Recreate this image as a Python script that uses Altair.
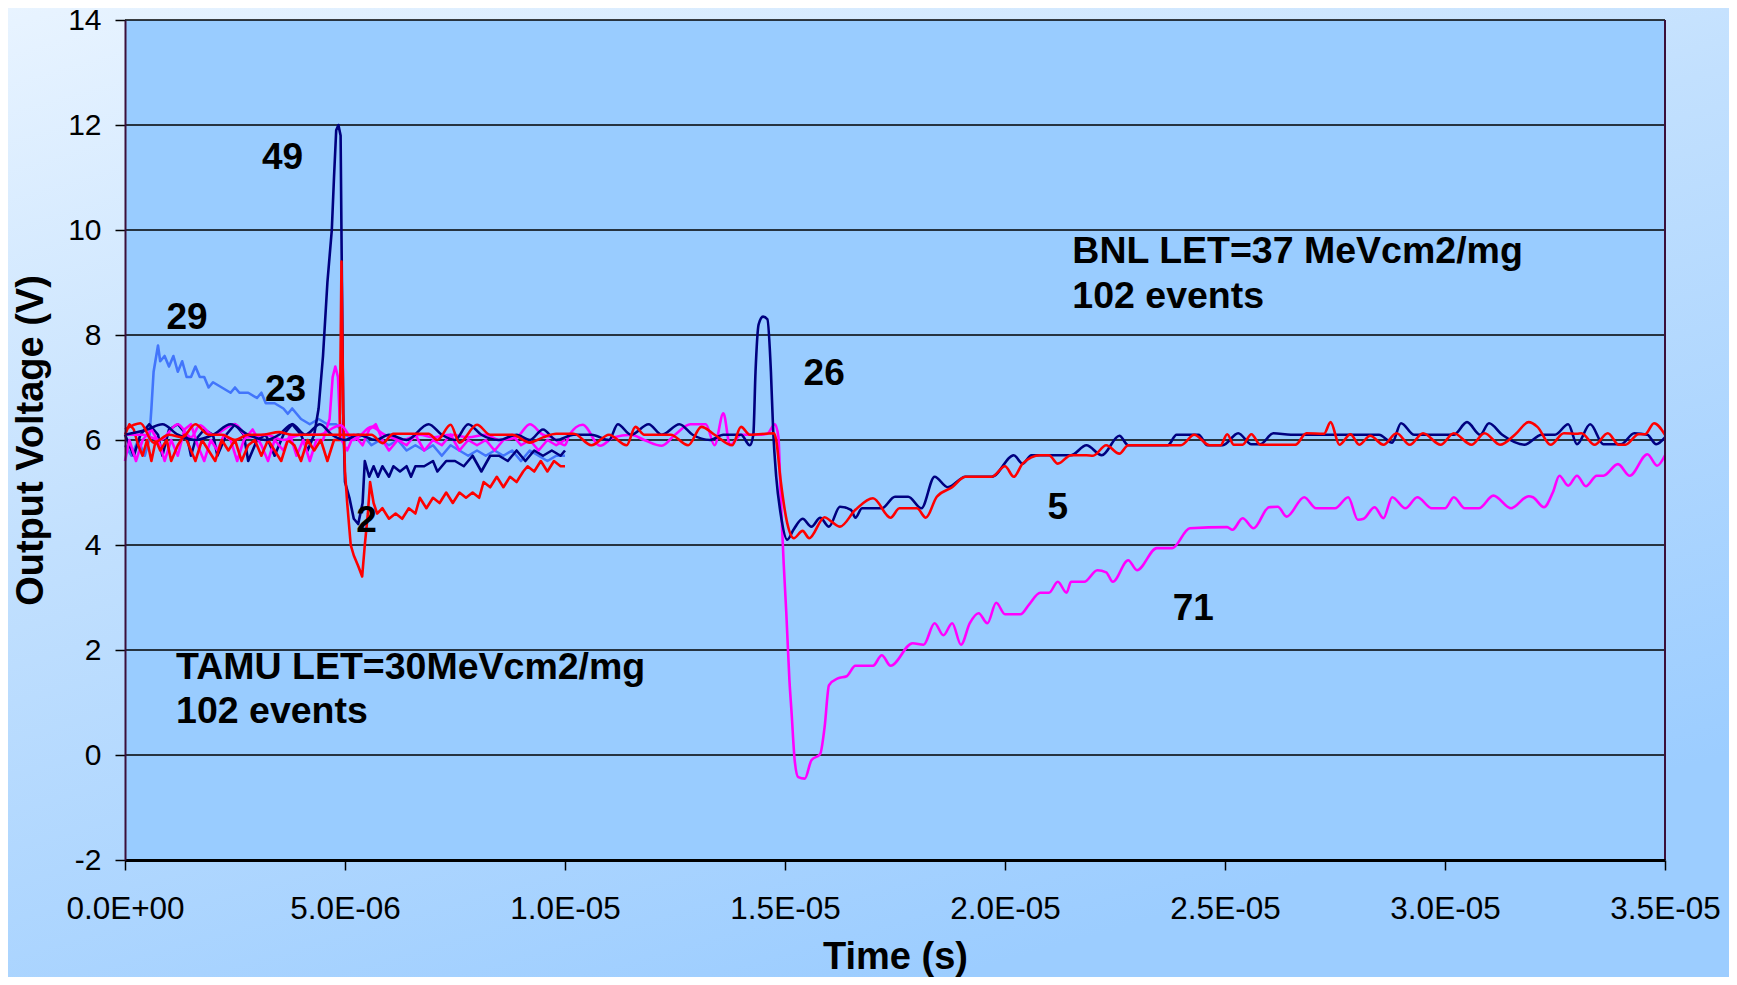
import altair as alt
import pandas as pd

W, H = 1540, 840

# ---- data (time in microseconds, voltage in V) ----
TAMU_BLUE = [(0.0,5.9),(0.15,5.7),(0.3,6.0),(0.45,5.7),(0.55,6.0),(0.6,6.6),(0.65,7.3),(0.75,7.8),(0.8,7.5),(0.9,7.6),
             (1.0,7.4),(1.1,7.6),(1.2,7.3),(1.3,7.5),(1.4,7.2),(1.5,7.2),(1.6,7.4),(1.7,7.2),(1.8,7.2),(1.9,7.0),
             (2.0,7.1),(2.2,7.0),(2.4,6.9),(2.5,7.0),(2.6,6.9),(2.8,6.9),(3.0,6.8),(3.1,6.9),(3.2,6.7),(3.4,6.7),
             (3.6,6.6),(3.7,6.5),(3.8,6.6),(4.0,6.4),(4.2,6.3),(4.4,6.4),(4.6,6.3),(4.8,6.3),(5.0,6.1),(5.2,6.0),
             (5.4,6.1),(5.6,5.9),(5.8,6.0),(6.0,5.9),(6.2,6.0),(6.4,5.8),(6.6,5.9),(6.8,5.8),(7.0,5.9),(7.2,5.7),
             (7.4,5.9),(7.6,5.8),(7.8,5.7),(8.0,5.8),(8.2,5.7),(8.4,5.8),(8.6,5.7),(8.8,5.8),(9.0,5.6),(9.2,5.8),
             (9.4,5.7),(9.6,5.6),(9.8,5.7),(10.0,5.7)]

TAMU_NAVY = [(0.0,6.1),(0.2,5.7),(0.35,6.1),(0.55,6.3),(0.75,6.1),(0.85,5.7),(1.0,6.2),(1.2,6.3),(1.4,6.1),(1.5,5.7),
             (1.6,6.0),(1.8,6.2),(2.0,6.1),(2.1,5.7),(2.3,6.1),(2.5,6.3),(2.7,6.1),(2.8,5.6),(3.0,6.0),(3.2,6.1),
             (3.4,5.7),(3.6,6.1),(3.8,6.3),(4.0,6.1),(4.15,5.8),(4.3,6.1),(4.4,6.6),(4.5,7.6),(4.6,9.0),(4.7,10.0),
             (4.75,11.0),(4.8,11.9),(4.85,12.0),(4.9,11.8),(4.93,9.0),(4.96,6.5),(5.0,5.2),(5.1,4.9),(5.2,4.5),(5.3,4.4),
             (5.4,4.8),(5.45,5.6),(5.55,5.3),(5.65,5.5),(5.75,5.3),(5.85,5.5),(6.0,5.3),(6.1,5.5),(6.25,5.4),(6.4,5.5),
             (6.5,5.3),(6.6,5.5),(6.8,5.5),(7.0,5.6),(7.1,5.4),(7.3,5.6),(7.5,5.6),(7.7,5.5),(7.9,5.7),(8.1,5.4),
             (8.3,5.7),(8.5,5.7),(8.7,5.6),(8.9,5.8),(9.1,5.6),(9.3,5.8),(9.5,5.7),(9.7,5.8),(9.9,5.7),(10.0,5.8)]

TAMU_MAGENTA = [(0.0,5.6),(0.1,6.0),(0.25,5.6),(0.4,6.0),(0.6,6.2),(0.8,5.9),(0.9,5.6),(1.05,6.0),(1.2,5.7),(1.35,6.2),
                (1.5,6.3),(1.65,5.9),(1.8,5.6),(1.95,6.0),(2.1,5.8),(2.25,6.1),(2.4,6.0),(2.55,5.6),(2.7,6.0),(2.9,6.2),
                (3.1,5.9),(3.25,5.6),(3.4,6.0),(3.6,5.8),(3.75,6.1),(3.9,5.7),(4.05,6.0),(4.2,5.6),(4.35,6.0),(4.5,6.0),
                (4.65,6.4),(4.72,7.2),(4.78,7.4),(4.84,7.2),(4.88,6.4),(4.92,6.0),(5.05,5.8),(5.2,6.1),(5.4,5.9),(5.55,6.2),
                (5.7,6.3),(5.85,6.0),(6.0,5.8),(6.2,6.0),(6.4,5.9),(6.6,6.1),(6.8,5.8),(7.0,6.0),(7.2,5.9),(7.4,6.1),
                (7.6,5.8),(7.8,6.0),(8.0,5.9),(8.2,6.0),(8.4,5.8),(8.6,6.0),(8.8,6.1),(9.0,5.9),(9.2,6.0),(9.4,5.8),
                (9.6,6.0),(9.8,5.9),(10.0,6.0)]

TAMU_RED = [(0.0,6.1),(0.1,6.3),(0.2,6.2),(0.3,5.9),(0.4,5.7),(0.5,6.0),(0.6,5.6),(0.7,6.0),(0.8,5.8),(0.95,6.0),
            (1.05,5.6),(1.2,5.9),(1.35,6.1),(1.5,5.8),(1.6,5.6),(1.75,6.0),(1.9,5.8),(2.05,5.6),(2.2,6.0),(2.35,5.8),
            (2.5,6.0),(2.65,5.6),(2.8,5.9),(2.95,6.0),(3.1,5.7),(3.25,6.0),(3.4,5.8),(3.55,5.6),(3.7,6.0),(3.85,5.9),
            (4.0,5.6),(4.15,6.0),(4.3,5.8),(4.45,6.0),(4.6,5.6),(4.75,6.0),(4.88,6.0),(4.92,9.4),(4.96,6.5),(5.0,5.4),
            (5.05,4.8),(5.13,4.0),(5.2,3.8),(5.3,3.6),(5.39,3.4),(5.45,4.0),(5.52,4.6),(5.57,5.2),(5.65,4.8),(5.73,4.6),
            (5.85,4.7),(6.0,4.5),(6.15,4.6),(6.3,4.5),(6.45,4.7),(6.6,4.6),(6.7,4.9),(6.85,4.7),(7.0,4.9),(7.15,4.8),
            (7.3,5.0),(7.45,4.8),(7.6,5.0),(7.75,4.9),(7.9,5.0),(8.05,4.9),(8.15,5.2),(8.3,5.1),(8.45,5.3),(8.6,5.1),
            (8.75,5.3),(8.9,5.2),(9.05,5.4),(9.15,5.5),(9.3,5.4),(9.45,5.6),(9.6,5.4),(9.75,5.6),(9.9,5.5),(10.0,5.5)]

BNL_MAGENTA = [(0.0,6.1),(0.4,6.1),(0.8,6.0),(1.2,6.3),(1.5,6.05),(1.7,6.28),(2.0,6.1),(2.5,6.3),(2.8,6.05),(3.2,6.1),
               (3.6,6.0),(4.0,6.1),(4.4,6.1),(4.9,6.28),(5.2,6.0),(5.6,6.25),(5.9,6.1),(6.3,6.0),(6.7,6.1),(7.0,6.05),
               (7.4,6.1),(7.8,6.05),(8.2,6.1),(8.5,6.0),(8.9,6.05),(9.2,6.3),(9.5,6.1),(9.7,6.05),(10.0,5.9),(10.1,6.1),
               (10.4,6.29),(10.8,5.89),(11.1,6.05),(11.5,6.1),(11.8,6.0),(12.2,5.89),(12.5,6.1),(12.85,6.3),(13.2,6.3),(13.4,5.9),
               (13.6,6.51),(13.75,5.9),(14.0,6.1),(14.4,6.1),(14.6,6.12),(14.77,6.3),(14.85,6.06),(14.9,4.98),(14.97,3.65),(15.03,2.7),
               (15.1,1.43),(15.15,0.8),(15.22,-0.1),(15.3,-0.42),(15.45,-0.45),(15.6,-0.1),(15.8,0.02),(15.9,0.53),(16.0,1.33),(16.2,1.46),
               (16.4,1.5),(16.6,1.7),(17.0,1.7),(17.2,1.9),(17.4,1.7),(17.9,2.13),(18.15,2.1),(18.4,2.51),(18.6,2.28),(18.8,2.51),
               (19.0,2.1),(19.2,2.51),(19.4,2.7),(19.6,2.51),(19.8,2.9),(20.0,2.68),(20.35,2.68),(20.55,2.87),(20.8,3.09),(21.0,3.09),
               (21.2,3.3),(21.4,3.09),(21.5,3.3),(21.8,3.3),(22.1,3.52),(22.3,3.48),(22.45,3.3),(22.8,3.71),(23.0,3.52),(23.45,3.94),
               (23.8,3.94),(24.2,4.32),(25.05,4.34),(25.17,4.29),(25.4,4.51),(25.65,4.32),(26.0,4.72),(26.2,4.73),(26.4,4.54),(26.8,4.91),
               (27.07,4.7),(27.5,4.7),(27.8,4.91),(28.02,4.48),(28.15,4.5),(28.4,4.72),(28.6,4.51),(28.8,4.91),(29.1,4.7),(29.37,4.91),
               (29.7,4.7),(30.0,4.7),(30.2,4.91),(30.45,4.7),(30.77,4.7),(31.1,4.94),(31.5,4.7),(31.9,4.93),(32.0,4.91),(32.25,4.72),
               (32.45,5.0),(32.6,5.32),(32.8,5.13),(33.0,5.32),(33.2,5.12),(33.45,5.32),(33.6,5.32),(33.93,5.54),(34.2,5.32),(34.6,5.73),
               (34.82,5.51),(35.0,5.71)]

BNL_NAVY = [(0.0,6.1),(0.5,6.2),(0.85,6.3),(1.2,6.1),(1.6,6.0),(2.0,6.1),(2.4,6.3),(2.8,6.1),(3.2,6.0),(3.5,6.1),
            (3.8,6.3),(4.1,6.1),(4.43,6.3),(4.7,6.1),(5.0,6.0),(5.3,6.1),(5.7,6.0),(6.0,6.1),(6.4,6.0),(6.9,6.3),
            (7.2,6.1),(7.5,6.0),(7.8,6.3),(8.1,6.1),(8.5,6.0),(8.9,6.1),(9.2,6.0),(9.5,6.2),(9.8,6.0),(10.2,6.1),
            (10.6,6.1),(11.0,6.0),(11.2,6.3),(11.5,6.1),(11.9,6.3),(12.2,6.1),(12.6,6.3),(12.9,6.1),(13.3,6.0),(13.6,6.1),
            (14.0,6.1),(14.2,5.9),(14.28,6.1),(14.33,7.3),(14.4,8.2),(14.5,8.35),(14.6,8.3),(14.68,7.3),(14.73,6.2),(14.8,5.3),
            (14.9,4.6),(15.05,4.1),(15.2,4.3),(15.4,4.5),(15.6,4.35),(15.8,4.52),(16.0,4.35),(16.25,4.73),(16.5,4.67),(16.6,4.52),
            (16.75,4.7),(17.2,4.7),(17.5,4.92),(17.8,4.92),(18.1,4.7),(18.4,5.3),(18.7,5.1),(19.1,5.3),(19.7,5.3),(20.2,5.71),
            (20.4,5.55),(20.6,5.71),(21.5,5.71),(21.85,5.9),(22.2,5.71),(22.6,6.08),(22.8,5.9),(23.7,5.9),(23.9,6.1),(24.4,6.1),
            (24.6,5.9),(24.95,5.9),(25.3,6.13),(25.6,5.92),(25.8,5.92),(26.1,6.13),(26.5,6.1),(27.0,6.1),(27.5,6.1),(28.0,6.1),
            (28.5,6.1),(28.8,5.95),(29.0,6.32),(29.3,6.1),(29.8,6.1),(30.2,6.1),(30.5,6.34),(30.8,6.1),(31.0,6.32),(31.3,6.1),
            (31.8,5.91),(32.2,6.1),(32.5,6.1),(32.8,6.3),(33.0,5.92),(33.3,6.3),(33.6,5.92),(34.0,5.92),(34.3,6.13),(34.6,6.1),
            (34.8,5.92),(35.0,6.05)]

BNL_RED = [(0.0,6.2),(0.35,6.32),(0.65,5.95),(1.0,6.1),(1.3,6.05),(1.6,6.3),(1.9,6.1),(2.2,6.1),(2.5,6.0),(2.8,6.1),
           (3.1,6.1),(3.5,6.15),(3.8,6.1),(4.2,6.1),(4.6,6.1),(5.0,6.1),(5.4,6.1),(5.6,6.1),(5.85,5.94),(6.1,6.12),
           (6.5,6.12),(6.9,6.12),(7.1,6.0),(7.4,6.29),(7.6,5.95),(8.0,6.29),(8.3,6.1),(8.8,6.1),(9.2,5.95),(9.5,6.05),
           (9.8,6.12),(10.2,6.12),(10.6,5.9),(11.0,6.1),(11.4,5.9),(11.6,6.25),(11.8,6.1),(12.4,6.1),(12.8,5.9),(13.1,6.25),
           (13.4,6.1),(13.8,5.9),(14.0,6.25),(14.2,6.1),(14.75,6.13),(14.8,6.0),(14.9,5.24),(15.05,4.42),(15.2,4.13),(15.4,4.27),
           (15.55,4.13),(15.9,4.53),(16.05,4.45),(16.25,4.35),(16.6,4.67),(17.0,4.89),(17.4,4.52),(17.6,4.7),(18.0,4.7),(18.2,4.52),
           (18.45,4.92),(18.8,5.1),(19.1,5.3),(19.7,5.3),(20.0,5.5),(20.2,5.3),(20.4,5.55),(20.8,5.71),(21.0,5.71),(21.2,5.55),
           (21.5,5.71),(21.85,5.71),(22.0,5.7),(22.3,5.9),(22.6,5.74),(22.8,5.9),(24.0,5.9),(24.3,6.1),(24.65,5.9),(24.9,5.9),
           (25.05,6.11),(25.2,5.91),(25.4,5.91),(25.6,6.11),(25.8,5.91),(26.6,5.91),(26.85,6.13),(27.25,6.12),(27.4,6.34),(27.6,5.91),
           (27.85,6.11),(28.05,5.91),(28.3,6.08),(28.6,5.91),(28.9,6.13),(29.2,5.91),(29.5,6.13),(29.9,5.91),(30.2,6.13),(30.6,5.91),
           (30.9,6.13),(31.25,5.91),(31.6,6.11),(31.9,6.34),(32.1,6.25),(32.4,5.91),(32.7,6.13),(33.0,6.12),(33.1,6.13),(33.4,5.91),
           (33.7,6.13),(33.95,5.91),(34.1,5.91),(34.4,6.11),(34.55,6.11),(34.75,6.32),(35.0,6.1)]

# (name, colour, interpolation, points)
SERIES = [
    ("TAMU blue", "#4275fb", "linear", TAMU_BLUE),
    ("TAMU navy", "#000080", "linear", TAMU_NAVY),
    ("TAMU magenta", "#ff00ff", "linear", TAMU_MAGENTA),
    ("TAMU red", "#ff0000", "linear", TAMU_RED),
    ("BNL magenta", "#ff00ff", "monotone", BNL_MAGENTA),
    ("BNL navy", "#000080", "monotone", BNL_NAVY),
    ("BNL red", "#ff0000", "monotone", BNL_RED),
]

LABELS = ["49", "29", "23", "2", "26", "5", "71"]
LABEL_T = [3.58, 1.41, 3.65, 5.49, 15.89, 21.2, 24.28]
LABEL_V = [11.38, 8.32, 6.95, 4.46, 7.25, 4.71, 2.79]

NOTES = ["BNL LET=37 MeVcm2/mg", "102 events", "TAMU LET=30MeVcm2/mg", "102 events"]
NOTE_T = [21.53, 21.53, 1.16, 1.16]
NOTE_V = [9.59, 8.72, 1.65, 0.81]

X_TICKS = [0, 5, 10, 15, 20, 25, 30, 35]
X_TICK_LABELS = ["0.0E+00", "5.0E-06", "1.0E-05", "1.5E-05", "2.0E-05", "2.5E-05", "3.0E-05", "3.5E-05"]
Y_TICKS = [-2, 0, 2, 4, 6, 8, 10, 12, 14]

FONT = "Liberation Sans"

x_scale = alt.Scale(domain=[0, 35], nice=False, zero=False)
y_scale = alt.Scale(domain=[-2, 14], nice=False, zero=False)

label_expr = "[" + ",".join("'%s'" % s for s in X_TICK_LABELS) + "][round(datum.value / 5)]"

x_axis = alt.Axis(values=X_TICKS, labelExpr=label_expr, title="Time (s)", grid=False,
                  labelFont=FONT, labelFontSize=31.5, labelColor="black", labelPadding=23,
                  labelFlush=False, labelOverlap=False, labelBound=False,
                  tickSize=10, tickColor="black", tickWidth=1.5,
                  domainColor="black", domainWidth=3,
                  titleFont=FONT, titleFontSize=38, titleFontWeight="bold", titleColor="black",
                  titleX=W / 2, titleY=108, titleAlign="center", titleBaseline="alphabetic",
                  zindex=1)
y_axis = alt.Axis(values=Y_TICKS, labelExpr="'' + datum.value", title="Output Voltage (V)", grid=False,
                  labelFont=FONT, labelFontSize=30, labelColor="black", labelPadding=14,
                  labelFlush=False, labelOverlap=False, labelBound=False,
                  tickSize=10, tickColor="black", tickWidth=1.5,
                  domainColor="#3a0f3a", domainWidth=2,
                  titleFont=FONT, titleFontSize=38, titleFontWeight="bold", titleColor="black",
                  titleX=-83, titleY=H / 2, titleAngle=-90, titleAlign="center",
                  titleBaseline="alphabetic", zindex=1)

one = pd.DataFrame({"k": [0]})

bg = alt.Chart(one).mark_rect(
    color=alt.LinearGradient(
        gradient="linear", x1=0, y1=0, x2=0.5, y2=1,
        stops=[alt.GradientStop(color="#e9f4ff", offset=0),
               alt.GradientStop(color="#c2e0fe", offset=0.45),
               alt.GradientStop(color="#9ccdff", offset=1)]
    )
).encode(x=alt.value(-130), x2=alt.value(W + 80), y=alt.value(-20), y2=alt.value(H + 140))

plot_bg = alt.Chart(one).mark_rect(color="#99ccff").encode(
    x=alt.value(0), x2=alt.value(W), y=alt.value(0), y2=alt.value(H))

grid = alt.Chart(pd.DataFrame({"v": Y_TICKS})).mark_rule(color="black", strokeWidth=1.5).encode(
    y=alt.Y("v:Q", scale=y_scale, axis=y_axis))

right_border = alt.Chart(one).mark_rule(color="#3a0f3a", strokeWidth=2).encode(
    x=alt.value(W), y=alt.value(0), y2=alt.value(H))

line_layers = []
for name, color, interp, pts in SERIES:
    df = pd.DataFrame(pts, columns=["t", "v"])
    df["order"] = range(len(df))
    line_layers.append(
        alt.Chart(df).mark_line(color=color, strokeWidth=2.6, strokeJoin="round",
                                interpolate=interp).encode(
            x=alt.X("t:Q", scale=x_scale, axis=x_axis),
            y=alt.Y("v:Q", scale=y_scale, axis=y_axis),
            order="order:Q",
        )
    )

labels = alt.Chart(pd.DataFrame({"t": LABEL_T, "v": LABEL_V, "s": LABELS})).mark_text(
    font=FONT, fontSize=37, fontWeight="bold", color="black", align="center", baseline="middle"
).encode(x=alt.X("t:Q", scale=x_scale, axis=x_axis), y=alt.Y("v:Q", scale=y_scale, axis=y_axis), text="s:N")

notes = alt.Chart(pd.DataFrame({"t": NOTE_T, "v": NOTE_V, "s": NOTES})).mark_text(
    font=FONT, fontSize=37.5, fontWeight="bold", color="black", align="left", baseline="middle"
).encode(x=alt.X("t:Q", scale=x_scale, axis=x_axis), y=alt.Y("v:Q", scale=y_scale, axis=y_axis), text="s:N")

chart = alt.layer(bg, plot_bg, grid, *line_layers, right_border, labels, notes).properties(
    width=W, height=H,
    padding={"left": 117, "top": 12, "right": 64, "bottom": 117},
    autosize=alt.AutoSizeParams(type="none"),
).configure_view(stroke=None)

chart.save("out.html", embed_options={"renderer": "svg", "actions": False})
